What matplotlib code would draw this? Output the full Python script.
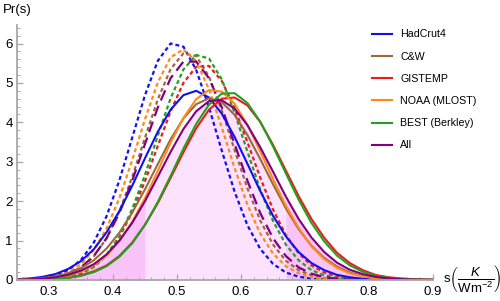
import numpy as np
import matplotlib.pyplot as plt
from matplotlib.lines import Line2D
from matplotlib.ticker import MultipleLocator

plt.rcParams['font.family'] = ['Liberation Sans', 'DejaVu Sans']
plt.rcParams['mathtext.fontset'] = 'custom'
plt.rcParams['mathtext.rm'] = 'Liberation Sans'
plt.rcParams['mathtext.it'] = 'Liberation Sans:italic'

# climate sensitivity grid, K/(W m^-2)
s = np.array([0.25, 0.27, 0.29, 0.31, 0.33, 0.35, 0.37, 0.39, 0.41, 0.43, 0.45, 0.47,
              0.49, 0.51, 0.53, 0.55, 0.57, 0.59, 0.61, 0.63, 0.65, 0.67, 0.69, 0.71,
              0.73, 0.75, 0.77, 0.79, 0.81, 0.83, 0.85, 0.87, 0.89, 0.90])

# solid curves
hadcrut = [0.02, 0.04, 0.08, 0.15, 0.28, 0.48, 0.78, 1.21, 1.75, 2.39, 3.09, 3.76, 4.32, 4.69, 4.80, 4.63, 4.22,
           3.63, 2.95, 2.26, 1.63, 1.11, 0.71, 0.43, 0.25, 0.13, 0.07, 0.03, 0.015, 0.006, 0.002, 0.001, 0, 0]
cw = [0.01, 0.02, 0.05, 0.09, 0.17, 0.30, 0.50, 0.80, 1.20, 1.71, 2.30, 2.94, 3.57, 4.10, 4.46, 4.61, 4.51,
      4.19, 3.68, 3.07, 2.43, 1.82, 1.29, 0.87, 0.56, 0.34, 0.19, 0.10, 0.05, 0.03, 0.01, 0.005, 0.002, 0.001]
gistemp = [0.002, 0.005, 0.012, 0.026, 0.054, 0.12, 0.22, 0.37, 0.61, 0.95, 1.40, 1.95, 2.59, 3.24, 3.85, 4.32, 4.60,
           4.63, 4.43, 4.01, 3.43, 2.78, 2.13, 1.55, 1.07, 0.69, 0.43, 0.25, 0.13, 0.07, 0.04, 0.02, 0.009, 0.006]
noaa = [0.005, 0.011, 0.025, 0.054, 0.11, 0.21, 0.37, 0.62, 0.99, 1.48, 2.08, 2.77, 3.48, 4.11, 4.59, 4.82, 4.78,
        4.47, 3.94, 3.27, 2.56, 1.89, 1.32, 0.86, 0.53, 0.31, 0.17, 0.09, 0.04, 0.02, 0.009, 0.004, 0.0015, 0.001]
best = [0.002, 0.005, 0.011, 0.025, 0.053, 0.105, 0.20, 0.35, 0.59, 0.93, 1.40, 1.98, 2.64, 3.33, 3.96, 4.45, 4.73,
        4.74, 4.49, 4.02, 3.39, 2.71, 2.04, 1.45, 0.98, 0.62, 0.37, 0.21, 0.11, 0.057, 0.027, 0.012, 0.005, 0.003]
all_ = [0.007, 0.016, 0.035, 0.069, 0.13, 0.24, 0.40, 0.65, 1.00, 1.45, 2.00, 2.62, 3.25, 3.83, 4.28, 4.54, 4.56,
        4.35, 3.93, 3.37, 2.75, 2.12, 1.55, 1.08, 0.71, 0.44, 0.26, 0.15, 0.08, 0.04, 0.019, 0.009, 0.004, 0.002]

# dashed curves
hadcrut_d = [0.005, 0.016, 0.044, 0.11, 0.25, 0.51, 0.95, 1.62, 2.53, 3.61, 4.69, 5.56, 6.00, 5.92, 5.33, 4.38, 3.28,
             2.24, 1.39, 0.79, 0.41, 0.19, 0.084, 0.033, 0.012, 0.004, 0.001, 0, 0, 0, 0, 0, 0, 0]
cw_d = [0.003, 0.01, 0.026, 0.064, 0.15, 0.31, 0.60, 1.06, 1.74, 2.61, 3.61, 4.58, 5.35, 5.75, 5.68, 5.16, 4.30,
        3.30, 2.33, 1.51, 0.90, 0.49, 0.25, 0.116, 0.049, 0.019, 0.007, 0.002, 0, 0, 0, 0, 0, 0]
gistemp_d = [0.002, 0.005, 0.015, 0.036, 0.083, 0.18, 0.35, 0.64, 1.09, 1.72, 2.51, 3.40, 4.28, 5.00, 5.41, 5.43, 5.05,
             4.36, 3.50, 2.60, 1.79, 1.14, 0.68, 0.37, 0.19, 0.09, 0.039, 0.016, 0.006, 0.002, 0, 0, 0, 0]
noaa_d = [0.005, 0.013, 0.035, 0.087, 0.19, 0.40, 0.76, 1.31, 2.08, 3.04, 4.08, 5.01, 5.65, 5.85, 5.55, 4.84, 3.87,
          2.84, 1.91, 1.18, 0.67, 0.35, 0.17, 0.073, 0.029, 0.011, 0.004, 0.001, 0, 0, 0, 0, 0, 0]
best_d = [0.001, 0.004, 0.011, 0.029, 0.072, 0.16, 0.33, 0.63, 1.11, 1.80, 2.67, 3.66, 4.61, 5.34, 5.71, 5.62, 5.09,
          4.24, 3.26, 2.30, 1.50, 0.90, 0.50, 0.25, 0.12, 0.051, 0.020, 0.007, 0.002, 0, 0, 0, 0, 0]
all_d = [0.004, 0.012, 0.030, 0.072, 0.16, 0.32, 0.61, 1.06, 1.70, 2.52, 3.45, 4.38, 5.12, 5.54, 5.54, 5.12, 4.38,
         3.45, 2.52, 1.70, 1.06, 0.61, 0.32, 0.16, 0.072, 0.030, 0.012, 0.004, 0, 0, 0, 0, 0, 0]

labels = ['HadCrut4', 'C&W', 'GISTEMP', 'NOAA (MLOST)', 'BEST (Berkley)', 'All']
colors = ['#1010f0', '#9a6a3e', '#f01818', '#ff8a1a', '#22a022', '#800080']
solid = [hadcrut, cw, gistemp, noaa, best, all_]
dashed = [hadcrut_d, cw_d, gistemp_d, noaa_d, best_d, all_d]
lo, hi = 0.45, 0.67   # interval edges of the shaded "All" curve

fig = plt.figure(figsize=(5, 3.01), dpi=100)
ax = fig.add_axes([0.034, 0.0698, 0.832, 0.8485])

all_arr = np.array(all_)
ax.fill_between(s, all_arr, where=(s >= lo) & (s <= hi), color='#fde2fd', lw=0)
ax.fill_between(s, all_arr, where=s <= lo, color='#f9c4f9', lw=0)
ax.fill_between(s, all_arr, where=s >= hi, color='#f9c4f9', lw=0)

for ys, c, lab in zip(dashed, colors, labels):
    dash = (5, 2.6) if lab == 'All' else (1.8, 1.3)
    ax.plot(s, ys, color=c, lw=1.6, dashes=dash)
for ys, c in zip(solid, colors):
    ax.plot(s, ys, color=c, lw=1.5)

ax.set_xlim(0.25, 0.9)
ax.set_ylim(0, 6.48)
for side in ['top', 'right']:
    ax.spines[side].set_visible(False)
for side in ['left', 'bottom']:
    ax.spines[side].set_color('#a8a8a8')
    ax.spines[side].set_linewidth(1.3)

ax.set_xticks([0.3, 0.4, 0.5, 0.6, 0.7, 0.8, 0.9])
ax.set_xticklabels(['0.3', '0.4', '0.5', '0.6', '0.7', '0.8', '0.9'])
ax.xaxis.set_minor_locator(MultipleLocator(0.02))
ax.set_yticks(range(7))
ax.yaxis.set_minor_locator(MultipleLocator(0.2))
ax.tick_params(which='both', direction='in', color='#a8a8a8', labelsize=9.5)
ax.tick_params(which='major', length=4, width=0.9)
ax.tick_params(which='minor', length=2, width=0.7)
ax.tick_params(axis='x', pad=4)
ax.tick_params(axis='y', pad=3)

fig.text(0.006, 1 - 10 / 301, 'Pr(s)', fontsize=9.5, va='center', ha='left')
ax.annotate(r's$\left(\dfrac{K}{\mathrm{Wm}^{-2}}\right)$', xy=(1, 0), xycoords='axes fraction',
            xytext=(7, 0), textcoords='offset points', ha='left', va='center', fontsize=9.5)

handles = [Line2D([], [], color=c, lw=1.5) for c in colors]
fig.legend(handles, labels, loc='upper left', bbox_to_anchor=(0.744, 0.902),
           frameon=False, fontsize=7.7, handlelength=1.87, handletextpad=0.75,
           labelspacing=1.14, borderpad=0, borderaxespad=0)

fig.savefig('out.png', dpi=100)
